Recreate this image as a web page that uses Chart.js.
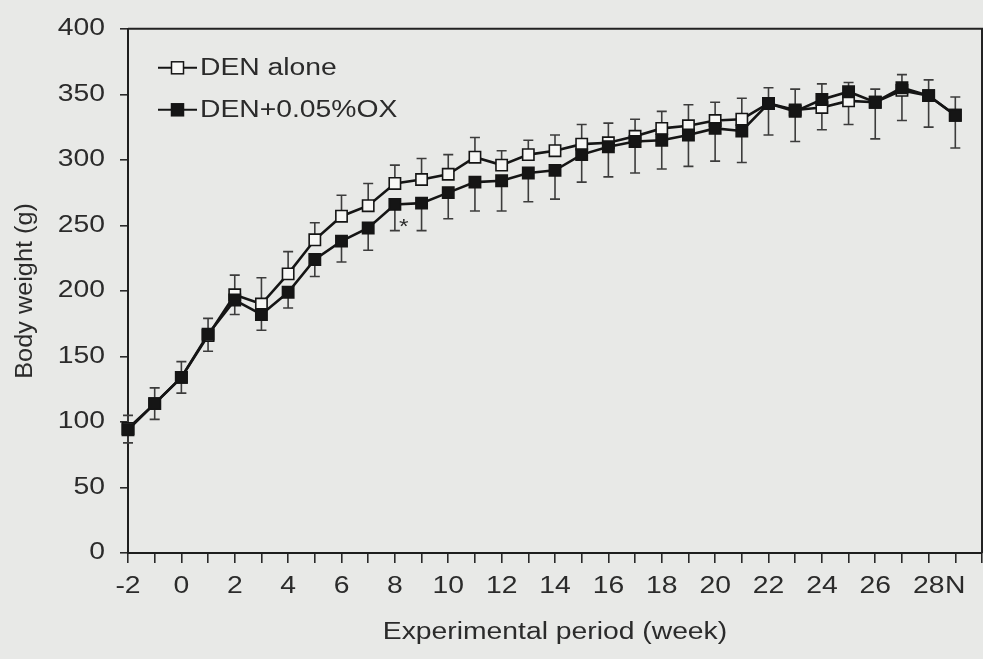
<!DOCTYPE html>
<html>
<head>
<meta charset="utf-8">
<script src="https://cdn.jsdelivr.net/npm/chart.js@4.4.1/dist/chart.umd.min.js"></script>
<style>
  html, body { margin: 0; padding: 0; background: #e8e9e7; }
  #wrap { width: 983px; height: 659px; position: relative; }
</style>
</head>
<body>
<div id="wrap"><canvas id="c"></canvas></div>
<script>
// ---- data ----
const weeks = [-2,-1,0,1,2,3,4,5,6,7,8,9,10,11,12,13,14,15,16,17,18,19,20,21,22,23,24,25,26,27,28,29];
const xTickLabels = ['-2','','0','','2','','4','','6','','8','','10','','12','','14','','16','','18','','20','','22','','24','','26','','28','N',''];
const yTicks = [0,50,100,150,200,250,300,350,400];
const seriesNames = ['DEN alone', 'DEN+0.05%OX'];
const denAlone   = [95,114,134,166,197,190,213,239,257,265,282,285,289,302,296,304,307,312,313,318,324,326,330,331,343,338,340,345,344,353,349,334];
const denAloneSD = [10,12,12,13,15,20,17,13,16,17,14,16,15,15,11,11,12,15,15,13,13,16,14,16,12,16,18,14,10,12,12,14];
const denOx      = [94,114,134,167,193,182,199,224,238,248,266,267,275,283,284,290,292,304,310,314,315,319,324,322,343,337,346,352,344,355,349,334];
const denOxSD    = [10,12,12,13,11,12,12,13,16,17,20,21,20,22,23,22,22,21,23,24,22,24,25,24,24,23,23,25,28,25,24,25];
const significance = [{ week: 8, text: '*' }];

// ---- style ----
const FONT = "'Liberation Sans', Arial, Helvetica, sans-serif";
const TEXT = '#2b2b2b';
const INK = '#151515';
const STRETCH_H = 1.23;   // reference glyphs are wide
const STRETCH_V = 1.1;

const textStretch = {
  id: 'textStretch',
  beforeInit(chart) {
    const ctx = chart.ctx;
    if (ctx.__stretched) return;
    const orig = ctx.fillText;
    ctx.fillText = function (text, x, y, maxWidth) {
      const t = this.getTransform();
      const rotated = Math.abs(t.b) > 1e-6 || Math.abs(t.c) > 1e-6;
      const s = rotated ? STRETCH_V : STRETCH_H;
      this.save();
      this.translate(x, y);
      this.scale(s, 1);
      if (maxWidth === undefined) orig.call(this, text, 0, 0);
      else orig.call(this, text, 0, 0, maxWidth / s);
      this.restore();
    };
    ctx.__stretched = true;
  }
};

const errorBars = {
  id: 'errorBars',
  beforeDatasetsDraw(chart) {
    const ctx = chart.ctx;
    const y = chart.scales.y;
    const sets = [
      { idx: 0, vals: denAlone, sd: denAloneSD, dir: 1 },
      { idx: 1, vals: denOx, sd: denOxSD, dir: -1 }
    ];
    ctx.save();
    ctx.strokeStyle = '#3c3c3c';
    ctx.lineWidth = 1.6;
    sets.forEach(s => {
      const meta = chart.getDatasetMeta(s.idx);
      meta.data.forEach((pt, j) => {
        const y0 = y.getPixelForValue(s.vals[j]);
        const y1 = y.getPixelForValue(s.vals[j] + s.dir * s.sd[j]);
        ctx.beginPath();
        ctx.moveTo(pt.x, y0);
        ctx.lineTo(pt.x, y1);
        ctx.moveTo(pt.x - 5, y1);
        ctx.lineTo(pt.x + 5, y1);
        ctx.stroke();
      });
    });
    ctx.restore();
  }
};

const frameAndNotes = {
  id: 'frameAndNotes',
  afterDraw(chart) {
    const ctx = chart.ctx;
    const a = chart.chartArea;
    ctx.save();
    ctx.strokeStyle = '#222';
    ctx.lineWidth = 2;
    ctx.beginPath();
    ctx.moveTo(a.left, a.top);
    ctx.lineTo(a.right, a.top);
    ctx.lineTo(a.right, a.bottom);
    ctx.stroke();

    // significance marks
    ctx.fillStyle = TEXT;
    ctx.font = '20px ' + FONT;
    ctx.textAlign = 'center';
    ctx.textBaseline = 'alphabetic';
    significance.forEach(n => {
      const j = weeks.indexOf(n.week);
      const px = chart.scales.x.getPixelForValue(n.week) + 9;
      const py = chart.scales.y.getPixelForValue(denOx[j]) + 29;
      ctx.fillText(n.text, px, py);
    });

    // legend
    chart.data.datasets.forEach((ds, i) => {
      const cy = a.top + 39 + i * 42;
      const x0 = a.left + 30;
      ctx.strokeStyle = INK;
      ctx.lineWidth = 2;
      ctx.beginPath();
      ctx.moveTo(x0, cy);
      ctx.lineTo(x0 + 39, cy);
      ctx.stroke();
      ctx.fillStyle = ds.pointBackgroundColor;
      ctx.fillRect(x0 + 13.5, cy - 6, 12, 12);
      ctx.lineWidth = 1.5;
      ctx.strokeRect(x0 + 13.5, cy - 6, 12, 12);
      ctx.fillStyle = TEXT;
      ctx.font = '23px ' + FONT;
      ctx.textAlign = 'left';
      ctx.textBaseline = 'middle';
      ctx.fillText(ds.label, x0 + 42, cy + 1);
    });
    ctx.restore();
  }
};

const toXY = vals => vals.map((v, i) => ({ x: weeks[i], y: v }));

new Chart(document.getElementById('c'), {
  type: 'line',
  data: {
    datasets: [
      {
        label: seriesNames[0],
        data: toXY(denAlone),
        borderColor: INK,
        borderWidth: 2.6,
        pointStyle: 'rect',
        pointRadius: 8,
        pointBorderWidth: 1.6,
        pointBackgroundColor: '#f7f7f5',
        pointBorderColor: INK,
        tension: 0,
        clip: false,
        order: 1
      },
      {
        label: seriesNames[1],
        data: toXY(denOx),
        borderColor: INK,
        borderWidth: 2.6,
        pointStyle: 'rect',
        pointRadius: 8,
        pointBorderWidth: 1.6,
        pointBackgroundColor: INK,
        pointBorderColor: INK,
        tension: 0,
        clip: false,
        order: 0
      }
    ]
  },
  options: {
    responsive: true,
    maintainAspectRatio: false,
    animation: false,
    events: [],
    layout: { autoPadding: false, padding: { top: 26, right: 1, left: 0, bottom: 0 } },
    plugins: { legend: { display: false }, tooltip: { enabled: false } },
    scales: {
      x: {
        type: 'linear',
        min: -2,
        max: 30,
        afterFit: s => { s.height = 106; s.paddingLeft = 0; s.paddingRight = 0; },
        afterBuildTicks: s => { s.ticks = weeks.concat([30]).map(v => ({ value: v })); },
        ticks: {
          autoSkip: false,
          maxRotation: 0,
          padding: 10,
          color: TEXT,
          font: { family: FONT, size: 23 },
          callback: v => xTickLabels[v + 2] || ''
        },
        grid: { display: true, drawOnChartArea: false, drawTicks: true, tickLength: 10, color: '#2a2a2a', lineWidth: 1.6 },
        border: { display: true, color: '#1e1e1e', width: 2 },
        title: {
          display: true,
          text: 'Experimental period (week)',
          color: TEXT,
          font: { family: FONT, size: 23 },
          padding: { top: 0, bottom: 13 }
        }
      },
      y: {
        min: 0,
        max: 400,
        afterFit: s => { s.width = 128; },
        afterBuildTicks: s => { s.ticks = yTicks.map(v => ({ value: v })); },
        ticks: {
          padding: 15,
          color: TEXT,
          font: { family: FONT, size: 23 }
        },
        grid: { display: true, drawOnChartArea: false, drawTicks: true, tickLength: 8, color: '#2a2a2a', lineWidth: 1.6 },
        border: { display: true, color: '#1e1e1e', width: 2 },
        title: {
          display: true,
          text: 'Body weight (g)',
          color: TEXT,
          font: { family: FONT, size: 23 },
          padding: { top: 12, bottom: 0 }
        }
      }
    }
  },
  plugins: [textStretch, errorBars, frameAndNotes]
});
</script>
</body>
</html>
